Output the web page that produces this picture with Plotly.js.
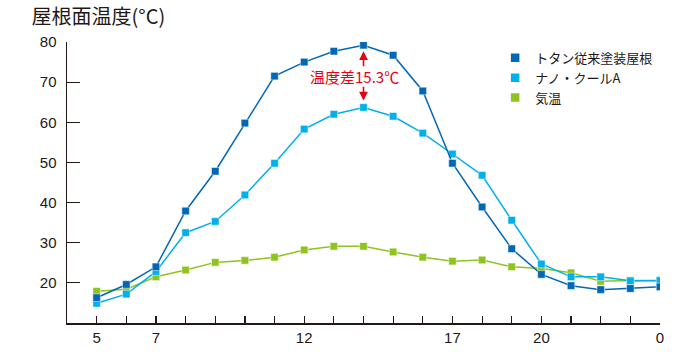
<!DOCTYPE html>
<html><head><meta charset="utf-8">
<script src="https://cdn.plot.ly/plotly-3.0.1.min.js"></script>
<style>html,body{margin:0;padding:0;background:#fff}#chart{width:700px;height:352px}</style>
</head><body><div id="chart"></div>
<script>
const hours = [5,6,7,8,9,10,11,12,13,14,15,16,17,18,19,20,21,22,23,24];
const tickVals = [5,6,7,8,9,10,11,12,13,14,15,16,17,18,19,20,21,22,23,24];
const tickText = ['5','','7','','','','','12','','','','','17','','','20','','','','0'];
const seriesNames = ['トタン従来塗装屋根','ナノ・クールA','気温'];
const tinRoof = [16.3,19.6,24.0,37.9,47.8,59.8,71.5,75.0,77.7,79.2,76.7,67.8,49.8,38.9,28.5,22.1,19.3,18.3,18.6,19.0];
const nanoCool = [14.9,17.2,22.8,32.5,35.3,41.9,49.8,58.3,62.0,63.7,61.5,57.3,52.1,46.8,35.6,24.7,21.5,21.5,20.5,20.6];
const airTemp = [17.9,18.4,21.5,23.2,25.1,25.6,26.4,28.2,29.1,29.1,27.7,26.4,25.4,25.7,24.0,23.6,22.5,20.4,20.6,20.5];
const colors = ['#0068b7','#00b0ec','#8fc31f'];
const diffLabel = '温度差15.3℃';
const diffHour = 14;

const font = "'Liberation Sans', 'Noto Sans CJK JP', sans-serif";
const jp = "'Noto Sans CJK JP', sans-serif";
const all = [tinRoof, nanoCool, airTemp];
const traces = [];
[2,1,0].forEach(i => {
  traces.push({x: hours, y: all[i], type:'scatter', mode:'lines+markers', showlegend:false,
    line:{color:colors[i], width:1.5}, marker:{symbol:'square', size:7.5, color:colors[i], line:{width:0.8, color:'rgba(255,255,255,0.6)'}}});
});
[0,1,2].forEach(i => {
  traces.push({x:[null], y:[null], type:'scatter', mode:'markers', name:seriesNames[i], showlegend:true,
    marker:{symbol:'square', size:8.5, color:colors[i]}});
});

const layout = {
  width:700, height:352,
  margin:{l:67, r:40, t:42, b:29},
  paper_bgcolor:'#fff', plot_bgcolor:'#fff',
  font:{family:font, color:'#231815'},
  title:{text:'屋根面温度(°C)', font:{family:jp, size:20, color:'#231815'}, xref:'container', yref:'container', x:0.045, xanchor:'left', y:0.952, yanchor:'middle'},
  xaxis:{range:[4,24], tickvals:tickVals, ticktext:tickText, ticks:'inside', ticklen:7, tickwidth:1.2, tickcolor:'#231815',
    showline:true, linecolor:'#231815', linewidth:1.5, showgrid:false, zeroline:false, tickfont:{size:15, family:font, color:'#231815'}},
  yaxis:{range:[10,80], tickvals:[20,30,40,50,60,70,80], ticks:'inside', ticklen:13, tickwidth:1.2, tickcolor:'#231815',
    showline:true, linecolor:'#231815', linewidth:1.5, showgrid:false, zeroline:false, tickfont:{size:15, family:font, color:'#231815'}, ticklabelstandoff:6},
  legend:{x:0.722, y:0.997, xanchor:'left', yanchor:'top', font:{family:jp, size:13, color:'#231815'}, itemwidth:30, tracegroupgap:0, bgcolor:'rgba(0,0,0,0)'},
  annotations:[
    {x:diffHour, y:71.5, xref:'x', yref:'y', xshift:-9, text:diffLabel, showarrow:false, font:{family:jp, size:15, color:'#e60012'}},
    {x:diffHour, y:77.7, ax:diffHour, ay:73.6, xref:'x', yref:'y', axref:'x', ayref:'y', text:'', showarrow:true, arrowhead:2, arrowsize:1.1, arrowwidth:1.6, arrowcolor:'#e60012'},
    {x:diffHour, y:65.4, ax:diffHour, ay:69.2, xref:'x', yref:'y', axref:'x', ayref:'y', text:'', showarrow:true, arrowhead:2, arrowsize:1.1, arrowwidth:1.6, arrowcolor:'#e60012'}
  ]
};
Plotly.newPlot('chart', traces, layout, {staticPlot:true, displayModeBar:false});
</script></body></html>
